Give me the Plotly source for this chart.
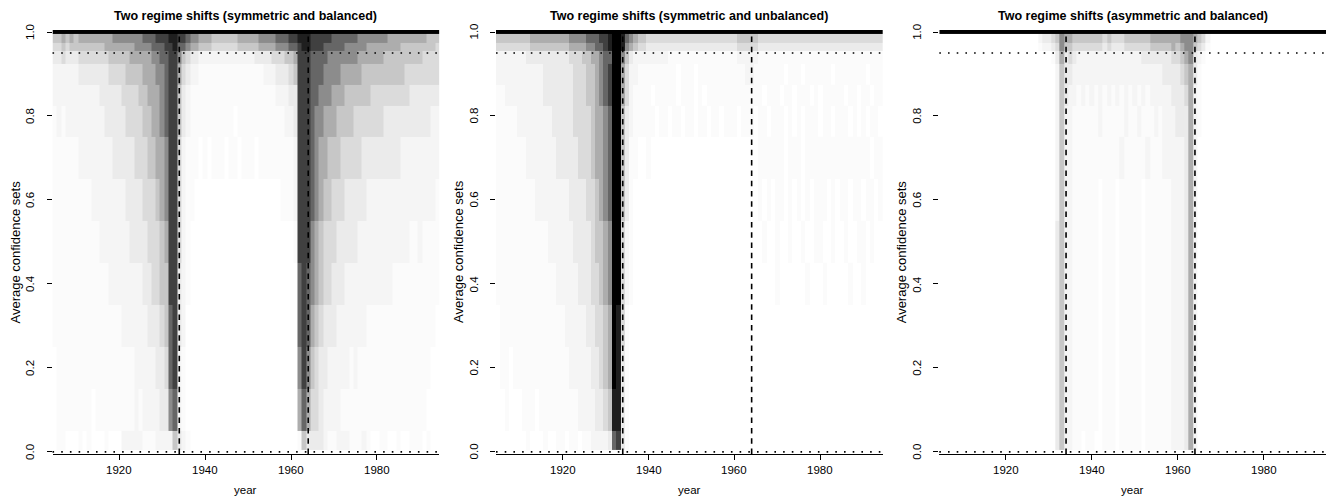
import plotly.graph_objects as go

# ---------------- data ----------------
YEARS = list(range(1905, 1995))
# confidence-level bands (edges, bottom -> top)
LEVEL_EDGES = [-0.005, 0.005, 0.05, 0.15, 0.25, 0.35, 0.45, 0.55, 0.65, 0.75,
               0.825, 0.875, 0.925, 0.955, 0.975, 0.995, 1.005]
# shade codes used in the rows below -> share of confidence sets containing the year
SHADE_CODES = "0123456789AX"
SHADE_VALUES = [0.0, 0.015, 0.04, 0.08, 0.14, 0.22, 0.32, 0.45, 0.60, 0.75, 0.88, 1.0]

TITLES = ["Two regime shifts (symmetric and balanced)",
          "Two regime shifts (symmetric and unbalanced)",
          "Two regime shifts (asymmetric and balanced)"]
BREAK_YEARS = [1934, 1964]
REFERENCE_LEVELS = [0.0, 0.95]
X_TICKS = [1920, 1940, 1960, 1980]
X_TICK_LABELS = ["1920", "1940", "1960", "1980"]
Y_TICKS = [0.0, 0.2, 0.4, 0.6, 0.8, 1.0]
Y_TICK_LABELS = ["0.0", "0.2", "0.4", "0.6", "0.8", "1.0"]
X_LABEL = "year"
Y_LABEL = "Average confidence sets"

# rows from top band (level 1.0) to bottom band (level 0.0); columns 1905..1994 in groups of 5
P1_ROWS = [
    "XXXXX XXXXX XXXXX XXXXX XXXXX XXXXX XXXXX XXXXX XXXXX XXXXX XXXXX XXXXX XXXXX XXXXX XXXXX XXXXX XXXXX XXXXX",
    "55656 56666 66667 77777 78889 99AA9 98776 66555 55566 66677 77888 99AAA 99999 88888 87777 77766 66666 66555",
    "44545 55555 55666 66667 77788 899A8 87665 55444 44455 55566 66777 889AA 99988 88877 77766 66666 65555 55554",
    "33433 34444 44455 55566 66677 88997 54332 22222 22222 22333 34445 56999 88887 77777 76666 66555 55555 54444",
    "22222 23333 33344 44555 56667 78996 43221 11111 11111 11112 22333 45999 88877 77666 66555 55555 55444 44444",
    "22222 22222 23333 34444 55666 78995 32111 11111 11111 11111 11222 33999 88777 66655 55554 44444 44433 33333",
    "12122 22222 22333 33444 45566 78995 32111 11111 11011 11111 11112 23999 87766 65555 44444 44333 33333 33322",
    "11111 12222 22223 33334 44556 67994 21110 10111 01101 11011 11111 12999 87665 55444 44333 33333 32222 22222",
    "11111 11112 22222 22333 34445 67994 21100 00000 00000 00000 00011 12999 87655 44433 33322 22222 22222 22221",
    "11111 11111 12222 22233 33444 56994 21000 00000 00000 00000 00000 01999 76544 43333 32222 22222 22211 21111",
    "11111 11111 11122 22222 23344 55993 21000 00000 00000 00000 00000 00898 76544 33322 22222 22221 11111 11111",
    "11111 11111 11111 12222 22333 45893 20000 00000 00000 00000 00000 00898 65433 32222 22211 11111 11111 11110",
    "01111 11111 11111 11112 22223 34892 10000 00000 00000 00000 00000 00797 54332 22221 21111 11111 11111 11100",
    "01111 11110 11111 11112 12222 33782 10000 00000 00000 00000 00000 00686 44322 22111 11111 11111 11111 11000",
    "01100 01010 00100 02222 21112 22253 21000 00000 00000 00000 00000 00153 33321 12221 11210 01100 10011 10100",
    "00000 00000 00000 00000 00000 00000 00000 00000 00000 00000 00000 00000 00000 00000 00000 00000 00000 00000",
]

P2_ROWS = [
    "XXXXX XXXXX XXXXX XXXXX XXXXX XXXXX XXXXX XXXXX XXXXX XXXXX XXXXX XXXXX XXXXX XXXXX XXXXX XXXXX XXXXX XXXXX",
    "55555 55566 66666 66777 78889 9AXXA 87655 44444 44444 44444 44444 45555 54444 44444 44444 44444 44444 44444",
    "44444 44455 55555 55666 67788 9AXXA 76544 33333 33333 33333 33333 34444 43333 33333 33333 33333 33333 33333",
    "22222 22333 33333 33444 55667 88XX7 53222 22222 11111 11111 11111 12222 21111 11111 11111 11111 11111 11111",
    "22222 22222 23333 33344 45567 89XX6 42211 11111 11011 10111 11111 11122 11111 11011 10111 11101 11111 10111",
    "11222 22222 23333 33344 45567 89XX6 42111 10111 11011 10101 11111 11111 11011 10110 11101 01111 10110 11011",
    "11111 22222 22233 33344 44566 78XX5 32111 11011 01101 10110 11011 10111 01101 11010 10111 01101 11010 10110",
    "11111 11222 22223 33334 44566 78XX5 31100 10000 00000 00000 00000 00000 01111 11011 10111 11111 11111 11011",
    "11111 11112 22222 22333 34456 78XX5 31000 00000 00000 00000 00000 00000 01010 11010 10101 11010 11011 01101",
    "11111 11111 11222 22233 33455 67XX4 21000 00000 00000 00000 00000 00000 00100 10010 01001 10010 01001 10100",
    "11111 11111 11112 22223 33445 67XX4 21000 00000 00000 00000 00000 00000 00000 10000 00100 01000 00100 10000",
    "01111 11111 11111 12222 23344 56XA4 10000 00000 00000 00000 00000 00000 00000 00000 00000 00000 00000 00000",
    "01101 11111 11111 11222 22334 56XA3 10000 00000 00000 00000 00000 00000 00000 00000 00000 00000 00000 00000",
    "00100 01110 11111 11112 22233 45AA3 10000 00000 00000 00000 00000 00000 00000 00000 00000 00000 00000 00000",
    "00000 00100 01001 10110 11222 23893 10000 00000 00000 00000 00000 00000 00000 00000 00000 00000 00000 00000",
    "00000 00000 00000 00000 00000 00000 00000 00000 00000 00000 00000 00000 00000 00000 00000 00000 00000 00000",
]

P3_ROWS = [
    "XXXXX XXXXX XXXXX XXXXX XXXXX XXXXX XXXXX XXXXX XXXXX XXXXX XXXXX XXXXX XXXXX XXXXX XXXXX XXXXX XXXXX XXXXX",
    "00000 00000 00000 00000 00023 34576 65555 55545 44455 55556 66666 67776 54200 00000 00000 00000 00000 00000",
    "00000 00000 00000 00000 00012 23475 54444 44434 33344 44445 55556 56775 43100 00000 00000 00000 00000 00000",
    "00000 00000 00000 00000 00000 01363 43222 22222 22222 22333 33334 45673 21000 00000 00000 00000 00000 00000",
    "00000 00000 00000 00000 00000 00253 32222 22222 22222 22222 22333 34563 10000 00000 00000 00000 00000 00000",
    "00000 00000 00000 00000 00000 00253 22121 21212 12121 21212 22223 33462 10000 00000 00000 00000 00000 00000",
    "00000 00000 00000 00000 00000 00252 21111 11211 11121 12111 21222 33362 10000 00000 00000 00000 00000 00000",
    "00000 00000 00000 00000 00000 00252 21111 11111 11211 11121 11222 22362 00000 00000 00000 00000 00000 00000",
    "00000 00000 00000 00000 00000 00252 21111 11011 10111 11011 11112 22362 00000 00000 00000 00000 00000 00000",
    "00000 00000 00000 00000 00000 00352 21111 11011 10111 11011 11112 22362 00000 00000 00000 00000 00000 00000",
    "00000 00000 00000 00000 00000 00352 21111 11011 10111 11011 11112 22362 00000 00000 00000 00000 00000 00000",
    "00000 00000 00000 00000 00000 00352 21111 11011 10111 11011 11112 22362 00000 00000 00000 00000 00000 00000",
    "00000 00000 00000 00000 00000 00352 21111 11011 10111 11011 11112 22362 00000 00000 00000 00000 00000 00000",
    "00000 00000 00000 00000 00000 00352 21111 11011 10111 11011 11112 22362 00000 00000 00000 00000 00000 00000",
    "00000 00000 00000 00000 00000 00352 21101 10011 10111 11011 11112 22362 00000 00000 00000 00000 00000 00000",
    "00000 00000 00000 00000 00000 00000 00000 00000 00000 00000 00000 00000 00000 00000 00000 00000 00000 00000",
]

PANELS = [P1_ROWS, P2_ROWS, P3_ROWS]


def decode(rows):
    z = []
    for r in reversed(rows):
        s = r.replace(" ", "")
        vals = [SHADE_VALUES[SHADE_CODES.index(c)] for c in s]
        n = len(YEARS)
        vals = (vals + [0.0] * n)[:n]
        z.append(vals)
    return z


# ---------------- layout geometry (pixels) ----------------
W, H = 1336, 501
PANEL_X = [(52.5, 439.3), (496.0, 882.7), (939.3, 1326.0)]
PLOT_TOP, PLOT_BOTTOM = 29.9, 454.0
FONT = "Liberation Sans, Arial, Helvetica, sans-serif"

x_edges = [y - 0.5 for y in YEARS] + [YEARS[-1] + 0.5]

fig = go.Figure()
shapes = []
annotations = []
layout_axes = {}


def txt(text, size, **kw):
    d = dict(text=text, showarrow=False, font=dict(family=FONT, size=size, color="black"))
    d.update(kw)
    return d


for i, rows in enumerate(PANELS):
    sfx = "" if i == 0 else str(i + 1)
    xa, ya = "x" + sfx, "y" + sfx
    fig.add_trace(go.Heatmap(
        x=x_edges, y=LEVEL_EDGES, z=decode(rows),
        colorscale=[[0, "#ffffff"], [1, "#000000"]], zmin=0, zmax=1,
        showscale=False, hoverinfo="skip", xaxis=xa, yaxis=ya))

    x0, x1 = PANEL_X[i]
    dom_x = [x0 / W, x1 / W]
    dom_y = [(H - PLOT_BOTTOM) / H, (H - PLOT_TOP) / H]
    layout_axes["xaxis" + sfx] = dict(
        domain=dom_x, range=[x_edges[0], x_edges[-1]], anchor=ya,
        tickvals=X_TICKS, showticklabels=False,
        ticks="outside", ticklen=5, tickwidth=1, tickcolor="black",
        showline=True, linecolor="black", linewidth=1, showgrid=False, zeroline=False,
        fixedrange=True)
    layout_axes["yaxis" + sfx] = dict(
        domain=dom_y, range=[LEVEL_EDGES[0], LEVEL_EDGES[-1]], anchor=xa,
        tickvals=Y_TICKS, showticklabels=False,
        ticks="outside", ticklen=5, tickwidth=1, tickcolor="black",
        showline=False, showgrid=False, zeroline=False, fixedrange=True)

    for b in BREAK_YEARS:
        shapes.append(dict(type="line", xref=xa, yref=ya + " domain", x0=b, x1=b, y0=0, y1=1,
                           line=dict(color="black", width=1.6, dash="5.5px,4.8px")))
    for lv in REFERENCE_LEVELS:
        shapes.append(dict(type="line", xref=xa + " domain", yref=ya, x0=0, x1=1, y0=lv, y1=lv,
                           line=dict(color="black", width=1.6, dash="1.6px,7.1px")))

    # tick labels
    for v, lab in zip(X_TICKS, X_TICK_LABELS):
        annotations.append(txt(lab, 11.5, xref=xa, x=v, yref=ya + " domain", y=0,
                               xanchor="center", yanchor="middle", yshift=-16))
    for v, lab in zip(Y_TICKS, Y_TICK_LABELS):
        annotations.append(txt(lab, 11.5, xref=xa + " domain", x=0, yref=ya, y=v,
                               xanchor="center", yanchor="middle", xshift=-22.5,
                               textangle=-90))
    # titles
    annotations.append(txt("<b>" + TITLES[i] + "</b>", 12.5, xref=xa + " domain", x=0.5,
                           yref=ya + " domain", y=1, xanchor="center", yanchor="middle",
                           yshift=PLOT_TOP - 16))
    annotations.append(txt(X_LABEL, 11.5, xref=xa + " domain", x=0.5, yref=ya + " domain",
                           y=0, xanchor="center", yanchor="middle", yshift=-(490 - PLOT_BOTTOM)))
    annotations.append(txt(Y_LABEL, 13, xref=xa + " domain", x=0, yref=ya + " domain", y=0.5,
                           xanchor="center", yanchor="middle", xshift=-37,
                           yshift=-(252 - (PLOT_TOP + PLOT_BOTTOM) / 2), textangle=-90))

fig.update_layout(
    width=W, height=H, margin=dict(l=0, r=0, t=0, b=0),
    paper_bgcolor="white", plot_bgcolor="white", showlegend=False,
    shapes=shapes, annotations=annotations, **layout_axes)

fig.write_html("out.html")
